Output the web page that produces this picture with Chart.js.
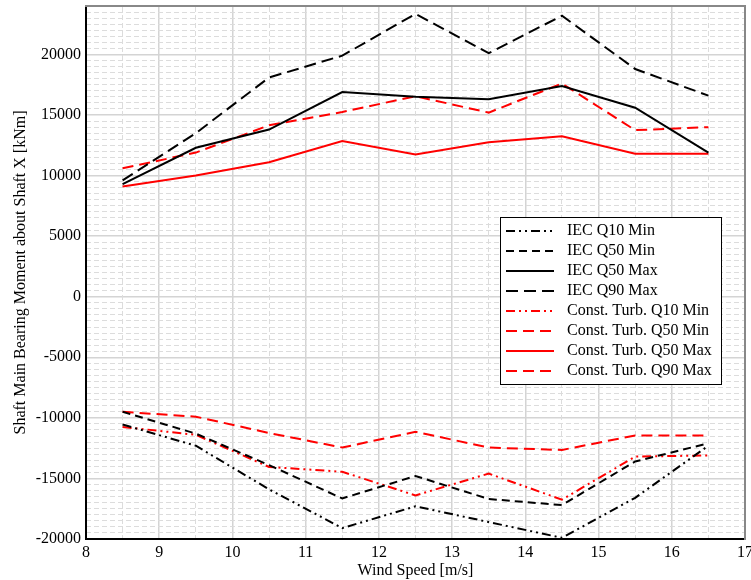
<!DOCTYPE html>
<html lang="en">

<head>
    <meta charset="UTF-8">
    <title>Shaft main bearing moment</title>
    <script src="https://cdn.jsdelivr.net/npm/chart.js"></script>
    <style>
        html, body { margin: 0; padding: 0; background: #fff; }
        #wrap { width: 751px; height: 580px; }
    </style>
</head>

<body>
    <div id="wrap"><canvas id="chart"></canvas></div>

    <script>
        // wind speed bins [m/s]
        const windSpeed = [8.5, 9.5, 10.5, 11.5, 12.5, 13.5, 14.5, 15.5, 16.5]

        // IEC turbulence [kNm]
        const iecQ10Min = [-10550, -12300, -15900, -19100, -17300, -18600, -19900, -16600, -12300]
        const iecQ50Min = [-9500, -11300, -13900, -16650, -14800, -16700, -17200, -13600, -12100]
        const iecQ50Max = [9300, 12300, 13800, 16900, 16500, 16300, 17400, 15600, 11900]
        const iecQ90Max = [9600, 13500, 18100, 19900, 23350, 20100, 23200, 18800, 16600]

        // constant turbulence [kNm]
        const ctQ10Min = [-10750, -11400, -14050, -14450, -16400, -14600, -16750, -13200, -13100]
        const ctQ50Min = [-9500, -9900, -11250, -12450, -11150, -12450, -12650, -11450, -11450]
        const ctQ50Max = [9100, 10000, 11100, 12850, 11750, 12750, 13250, 11800, 11800]
        const ctQ90Max = [10600, 11900, 14150, 15250, 16550, 15200, 17600, 13750, 14000]

        // tick labels
        const xTicks = [8, 9, 10, 11, 12, 13, 14, 15, 16, 17]
        const yTicks = [-20000, -15000, -10000, -5000, 0, 5000, 10000, 15000, 20000]

        const font = '"Liberation Serif", "DejaVu Serif", serif'

        function pts(values) {
            return windSpeed.map((w, i) => ({ x: w, y: values[i] }))
        }

        function line(label, values, color, dash) {
            return {
                label: label,
                data: pts(values),
                borderColor: color,
                backgroundColor: color,
                borderWidth: 2,
                borderDash: dash,
                pointRadius: 0,
                tension: 0,
                fill: false
            }
        }

        const dashDot = [9, 4, 2, 4, 2, 4]

        const datasets = [
            line('IEC Q10 Min', iecQ10Min, '#000', dashDot),
            line('IEC Q50 Min', iecQ50Min, '#000', [8, 5]),
            line('IEC Q50 Max', iecQ50Max, '#000', []),
            line('IEC Q90 Max', iecQ90Max, '#000', [12, 6]),
            line('Const. Turb. Q10 Min', ctQ10Min, '#ff0000', dashDot),
            line('Const. Turb. Q50 Min', ctQ50Min, '#ff0000', [11, 6]),
            line('Const. Turb. Q50 Max', ctQ50Max, '#ff0000', []),
            line('Const. Turb. Q90 Max', ctQ90Max, '#ff0000', [11, 6])
        ]

        // legend drawn inside the plot, in a boxed frame
        const boxLegend = {
            id: 'boxLegend',
            afterDatasetsDraw(chart) {
                const ctx = chart.ctx
                const area = chart.chartArea
                const left = area.right - 245
                const top = area.top + 211
                const w = 221, h = 167, rowH = 20
                ctx.save()
                ctx.fillStyle = '#fff'
                ctx.fillRect(left, top, w, h)
                ctx.strokeStyle = '#000'
                ctx.lineWidth = 1
                ctx.strokeRect(left + 0.5, top + 0.5, w, h)
                ctx.font = '16px ' + font
                ctx.textBaseline = 'middle'
                chart.data.datasets.forEach((ds, i) => {
                    const cy = top + 14 + i * rowH
                    ctx.strokeStyle = ds.borderColor
                    ctx.lineWidth = ds.borderWidth
                    ctx.setLineDash(ds.borderDash || [])
                    ctx.beginPath()
                    ctx.moveTo(left + 6, cy)
                    ctx.lineTo(left + 54, cy)
                    ctx.stroke()
                    ctx.setLineDash([])
                    ctx.fillStyle = '#000'
                    ctx.fillText(ds.label, left + 67, cy)
                })
                ctx.restore()
            }
        }

        const minorGrid = (step) => (c) => {
            const v = c.tick ? c.tick.value : 0
            return Math.abs(v / step - Math.round(v / step)) < 1e-6 ? 'rgba(0,0,0,0)' : '#dcdcdc'
        }

        new Chart(document.getElementById('chart'), {
            type: 'line',
            data: { datasets: datasets },
            plugins: [boxLegend],
            options: {
                responsive: true,
                maintainAspectRatio: false,
                animation: false,
                layout: { padding: { top: 6, right: 6, left: 0, bottom: 0 } },
                plugins: {
                    legend: { display: false },
                    tooltip: { enabled: false }
                },
                scales: {
                    x: {
                        type: 'linear',
                        position: 'bottom',
                        min: 8,
                        max: 17,
                        afterBuildTicks: (s) => { s.ticks = xTicks.map(v => ({ value: v })) },
                        ticks: {
                            autoSkip: false,
                            padding: 4,
                            color: '#000',
                            font: { family: font, size: 16 },
                            callback: (v) => String(v)
                        },
                        grid: { color: '#d4d4d4', lineWidth: 1.5, drawTicks: false },
                        border: { display: true, color: '#000', width: 2 },
                        title: {
                            display: true,
                            text: 'Wind Speed [m/s]',
                            color: '#000',
                            font: { family: font, size: 16 },
                            padding: { top: 0, bottom: 0 }
                        },
                        afterFit: (s) => {
                            s.height = 41
                            s.paddingLeft = 0
                            s.paddingRight = 0
                        }
                    },
                    y: {
                        type: 'linear',
                        position: 'left',
                        min: -20000,
                        max: 24000,
                        afterBuildTicks: (s) => { s.ticks = yTicks.map(v => ({ value: v })) },
                        ticks: {
                            autoSkip: false,
                            padding: 5,
                            color: '#000',
                            font: { family: font, size: 16 },
                            callback: (v) => String(v)
                        },
                        grid: { color: '#d4d4d4', lineWidth: 1.5, drawTicks: false },
                        border: { display: true, color: '#000', width: 2 },
                        title: {
                            display: true,
                            text: 'Shaft Main Bearing Moment about Shaft X [kNm]',
                            color: '#000',
                            font: { family: font, size: 16 },
                            padding: { top: 11, bottom: 0 }
                        },
                        afterFit: (s) => {
                            s.width = 86
                            s.paddingTop = 0
                            s.paddingBottom = 0
                        }
                    },
                    // minor grids (dashed), also give the grey top / right frame
                    x2: {
                        type: 'linear',
                        position: 'top',
                        min: 8,
                        max: 17,
                        ticks: { display: false, stepSize: 0.5, maxTicksLimit: 1000 },
                        grid: { color: minorGrid(1), lineWidth: 1, drawTicks: false },
                        border: { display: true, color: '#888', width: 2, dash: [5, 3] },
                        afterFit: (s) => { s.height = 0 }
                    },
                    y2: {
                        type: 'linear',
                        position: 'right',
                        min: -20000,
                        max: 24000,
                        ticks: { display: false, stepSize: 500, maxTicksLimit: 1000 },
                        grid: { color: minorGrid(5000), lineWidth: 1, drawTicks: false },
                        border: { display: true, color: '#888', width: 2, dash: [5, 3] },
                        afterFit: (s) => { s.width = 0 }
                    }
                }
            }
        });
    </script>
</body>

</html>
